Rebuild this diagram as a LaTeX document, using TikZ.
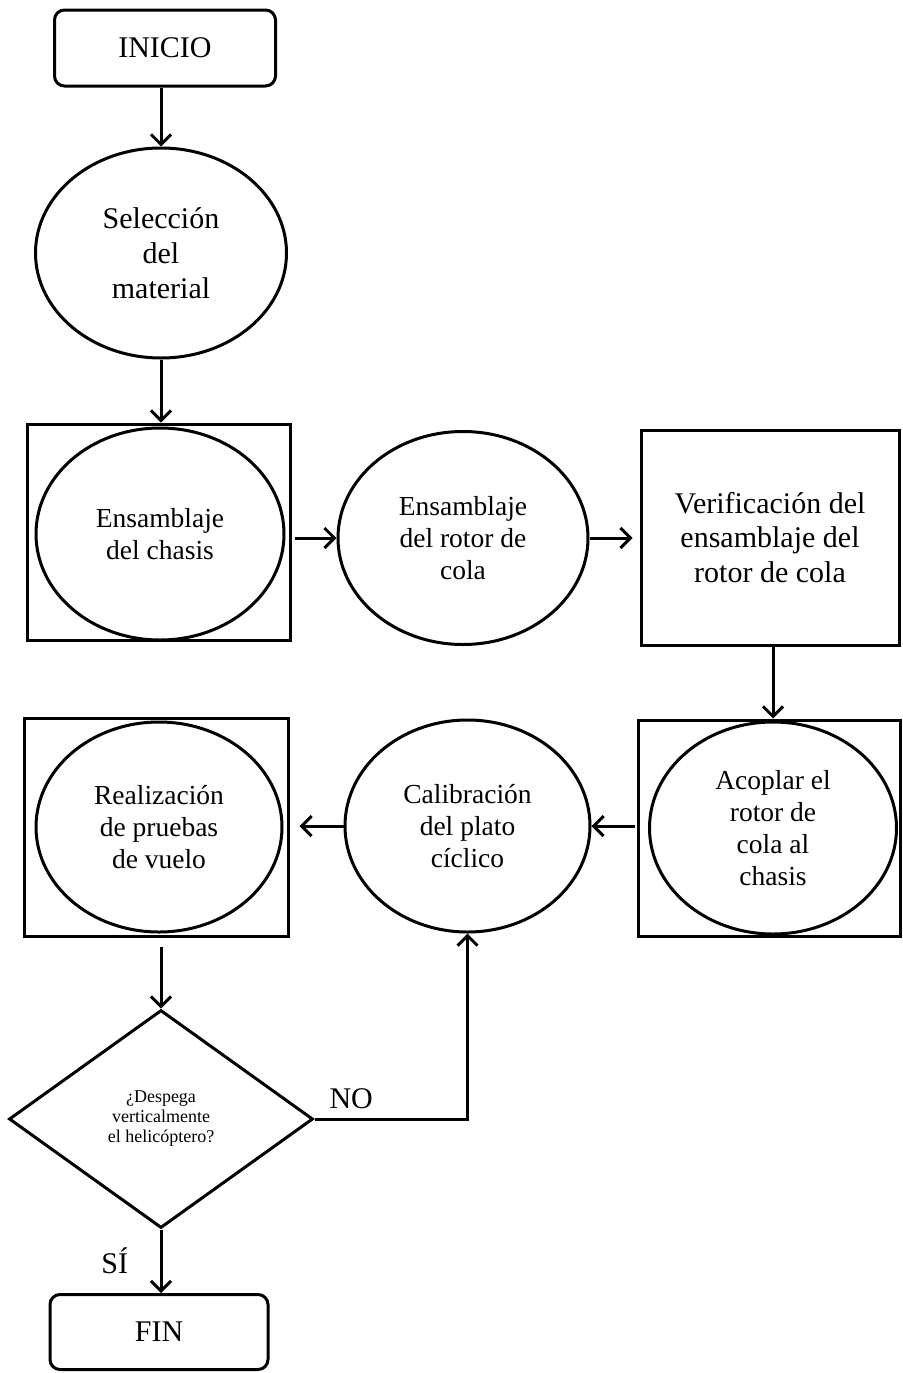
\documentclass[tikz,border=0pt]{standalone}
\usepackage{fontspec}
\setmainfont{Liberation Serif}
\usetikzlibrary{shapes.geometric,arrows.meta}

\begin{document}
\begin{tikzpicture}[x=1pt,y=-1pt,line width=3pt,
		texto/.style={align=center,font=\fontsize{27.5}{32}\selectfont},
		terminal/.style={draw,rounded corners=10pt,minimum width=221pt,minimum height=76pt,inner sep=0pt,font=\fontsize{30}{34}\selectfont},
		proceso/.style={draw,ellipse,inner sep=0pt,texto},
		caja/.style={draw,rectangle,inner sep=0pt},
		decision/.style={draw,diamond,inner sep=0pt,minimum width=304pt,minimum height=218pt,align=center,font=\fontsize{18}{20}\selectfont},
		etiqueta/.style={font=\fontsize{30}{34}\selectfont},
		flecha/.style={-{Straight Barb[length=10pt,width=20pt]}}]
		\useasboundingbox (0,0) rectangle (902,1373);
		
		% columna izquierda, arriba
		\node[terminal] (inicio) at (165,48) {INICIO};
		\node[proceso,minimum width=251pt,minimum height=210pt,font=\fontsize{30}{35}\selectfont] (seleccion) at (161,253) {Selección\\del\\material};
		
		% fila 1
		\node[caja,minimum width=263pt,minimum height=216pt] (chasisbox) at (158.5,532) {};
		\node[proceso,minimum width=248pt,minimum height=212pt] (chasis) at (160,534) {Ensamblaje\\del chasis};
		\node[proceso,minimum width=250pt,minimum height=213pt] (rotor) at (463,538) {Ensamblaje\\del rotor de\\cola};
		\node[caja,minimum width=258pt,minimum height=215pt,align=center,font=\fontsize{30}{34.5}\selectfont] (verificacion) at (770,537.5) {Verificación del\\ensamblaje del\\rotor de cola};
		
		% fila 2
		\node[caja,minimum width=262pt,minimum height=216pt] (acoplarbox) at (769,828) {};
		\node[proceso,minimum width=247pt,minimum height=212pt] (acoplar) at (773,828) {Acoplar el\\rotor de\\cola al\\chasis};
		\node[proceso,minimum width=245pt,minimum height=212pt] (calibracion) at (467.5,826) {Calibración\\del plato\\cíclico};
		\node[caja,minimum width=264pt,minimum height=218pt] (pruebasbox) at (156,827) {};
		\node[proceso,minimum width=246pt,minimum height=210pt] (pruebas) at (159,827) {Realización\\de pruebas\\de vuelo};
		
		% decision y fin
		\node[decision] (despega) at (161,1119) {¿Despega\\verticalmente\\el helicóptero?};
		\node[terminal,minimum width=218pt,minimum height=75pt] (fin) at (159,1332) {FIN};
		
		\draw[flecha] (inicio.south -| seleccion.north) -- (seleccion.north);
		\draw[flecha] (seleccion.south) -- (seleccion.south |- chasisbox.north);
		\draw[flecha,shorten <=3pt] (chasisbox.east |- rotor.west) -- (rotor.west);
		\draw[flecha,shorten >=7pt] (rotor.east) -- (rotor.east -| verificacion.west);
		\draw[flecha] (verificacion.south -| acoplar.north) -- (acoplarbox.north -| acoplar.north);
		\draw[flecha,shorten <=2pt] (acoplarbox.west |- calibracion.east) -- (calibracion.east);
		\draw[flecha,shorten >=10pt] (calibracion.west) -- (calibracion.west -| pruebasbox.east);
		\draw[flecha,shorten <=9pt] (pruebasbox.south -| despega.north) -- (despega.north);
		\draw[flecha] (despega.east) -| node[etiqueta,pos=0.12,above=5pt] (no) {NO} (calibracion.south);
		\draw[flecha] (despega.south) -- node[etiqueta,left=28pt] (si) {SÍ} (fin.north -| despega.south);
\end{tikzpicture}
\end{document}
